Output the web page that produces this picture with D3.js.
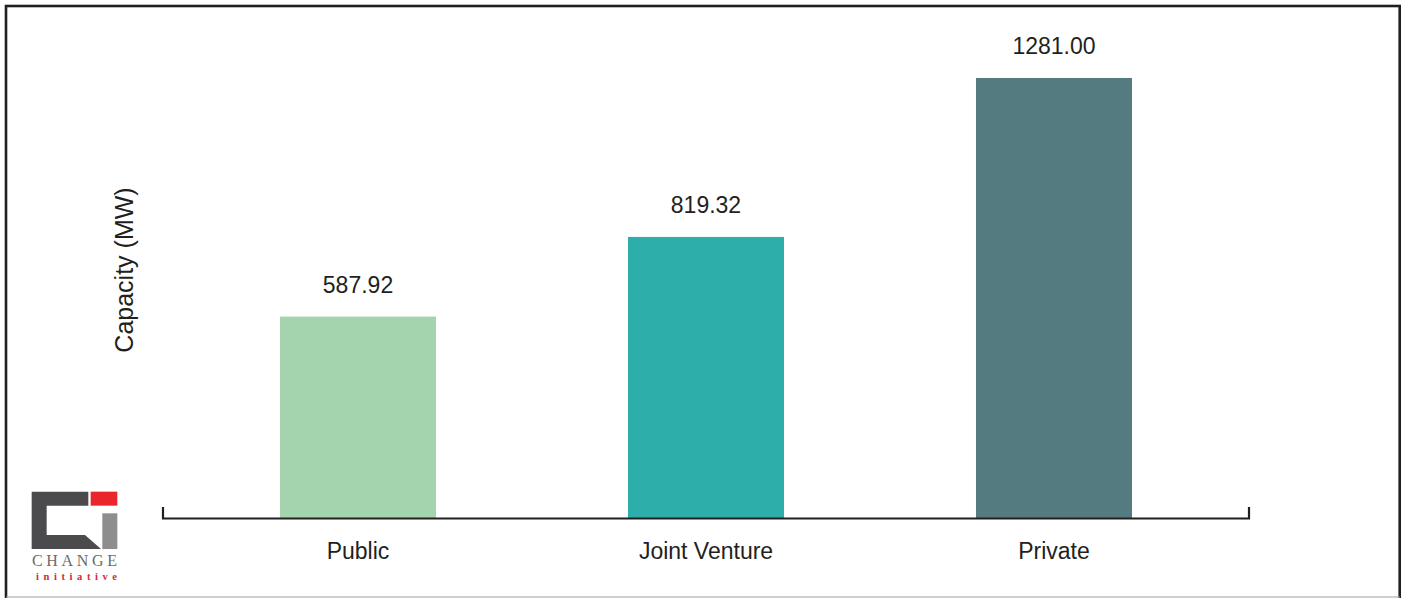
<!DOCTYPE html>
<html>
<head>
<meta charset="utf-8">
<script src="https://cdn.jsdelivr.net/npm/d3@7"></script>
<style>
  html, body { margin: 0; padding: 0; background: #fff; }
  svg { display: block; }
</style>
</head>
<body>
<svg id="chart" width="1405" height="598"></svg>
<script>
// Installed capacity by ownership type
const categories = ["Public", "Joint Venture", "Private"];
const capacity = [587.92, 819.32, 1281.00];
const barColors = ["#a3d4ad", "#2daeab", "#547c80"];
const yTitle = "Capacity (MW)";

const svg = d3.select("#chart");
const W = 1405, H = 598;
const font = "'Liberation Sans', Arial, Helvetica, sans-serif";

// frame
svg.append("rect")
  .attr("x", 6).attr("y", 6)
  .attr("width", 1393.7).attr("height", H + 10)
  .attr("fill", "none").attr("stroke", "#231f20").attr("stroke-width", 2.6);
svg.append("line")
  .attr("x1", 6).attr("x2", 1400).attr("y1", 597).attr("y2", 597)
  .attr("stroke", "#a0a0a0").attr("stroke-width", 1.2);

// scales
const x = d3.scaleBand()
  .domain(categories)
  .range([184, 1228])
  .paddingInner(0.5517)
  .paddingOuter(0.2759);
const y = d3.scaleLinear()
  .domain([0, 1281])
  .range([519, 78]);

// bars
svg.append("g").selectAll("rect")
  .data(categories)
  .join("rect")
  .attr("x", d => x(d))
  .attr("y", (d, i) => y(capacity[i]))
  .attr("width", x.bandwidth())
  .attr("height", (d, i) => y(0) - y(capacity[i]))
  .attr("fill", (d, i) => barColors[i]);

// value labels
svg.append("g").selectAll("text")
  .data(categories)
  .join("text")
  .attr("x", d => x(d) + x.bandwidth() / 2)
  .attr("y", (d, i) => y(capacity[i]) - 24)
  .attr("text-anchor", "middle")
  .attr("font-family", font)
  .attr("font-size", 23)
  .attr("fill", "#231f20")
  .text((d, i) => capacity[i].toFixed(2));

// x axis: baseline with end ticks pointing up
const axisY = 518.5;
const xAxis = d3.axisBottom(x).tickSize(0).tickPadding(24);
const gx = svg.append("g")
  .attr("transform", `translate(0,${axisY})`)
  .call(xAxis);
gx.select(".domain").remove();
gx.selectAll(".tick text")
  .attr("font-family", font)
  .attr("font-size", 23)
  .attr("fill", "#231f20");
svg.append("path")
  .attr("d", `M163,507 V${axisY} H1249 V507`)
  .attr("fill", "none")
  .attr("stroke", "#231f20")
  .attr("stroke-width", 2.2);

// y title
svg.append("text")
  .attr("transform", "translate(133,270) rotate(-90)")
  .attr("text-anchor", "middle")
  .attr("font-family", font)
  .attr("font-size", 25)
  .attr("fill", "#231f20")
  .text(yTitle);

// logo
const logo = svg.append("g").attr("transform", "translate(25,485) scale(0.3333)");
logo.append("path")
  .attr("d", "M20,20 H190 V62 H65 V150 H180 L228,192 H20 Z")
  .attr("fill", "#4b4b4d");
logo.append("rect").attr("x", 197).attr("y", 20).attr("width", 80).attr("height", 42).attr("fill", "#e8262c");
logo.append("rect").attr("x", 232).attr("y", 85).attr("width", 45).attr("height", 107).attr("fill", "#8e8e8e");
svg.append("text")
  .attr("x", 32).attr("y", 566)
  .attr("font-family", "'Liberation Serif', 'DejaVu Serif', serif")
  .attr("font-size", 16)
  .attr("textLength", 85).attr("lengthAdjust", "spacing")
  .attr("fill", "#6a6a6a")
  .text("CHANGE");
svg.append("text")
  .attr("x", 36).attr("y", 580)
  .attr("font-family", "'Liberation Serif', 'DejaVu Serif', serif")
  .attr("font-size", 10.5)
  .attr("font-weight", "bold")
  .attr("textLength", 81).attr("lengthAdjust", "spacing")
  .attr("fill", "#d42a3a")
  .text("initiative");
</script>
</body>
</html>
